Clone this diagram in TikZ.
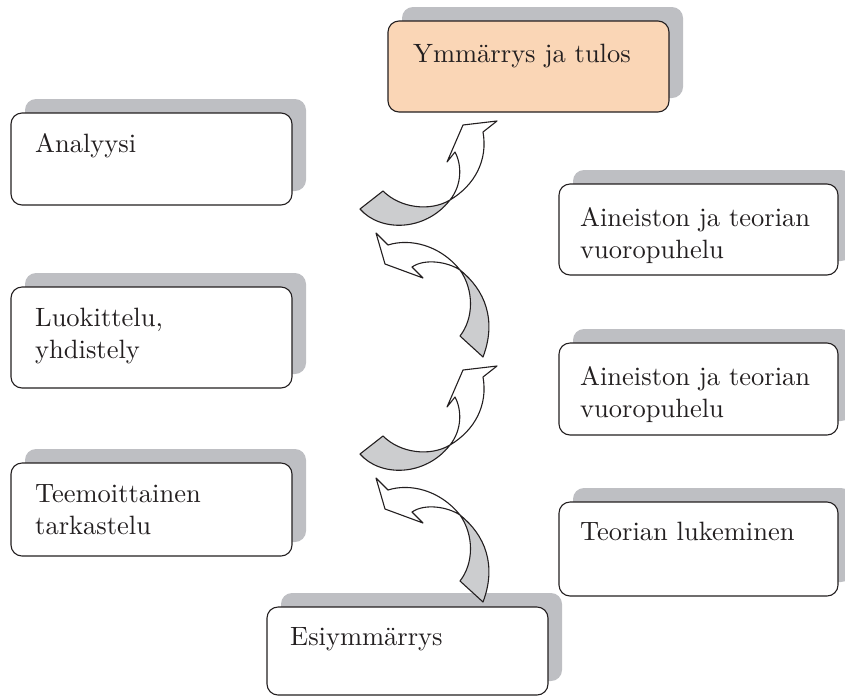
\documentclass[tikz,border=0pt]{standalone}
\usepackage{fontspec}
\setmainfont{lmroman10-regular.otf}
\usetikzlibrary{shadows}
\definecolor{lineblack}{RGB}{35,31,32}
\definecolor{shadowgray}{RGB}{190,191,195}
\definecolor{bandgray}{RGB}{204,205,207}
\definecolor{peach}{RGB}{250,214,182}
\newcommand\textlines[1]{\parbox[t]{260pt}{\raggedright #1}}
\tikzset{
  panel/.style={draw=lineblack, fill=white, line width=1.1pt, rounded corners=11pt,
    inner sep=0pt, outer sep=0pt, anchor=north west, minimum width=281pt,
    general shadow={fill=shadowgray, shadow xshift=14pt, shadow yshift=14pt}},
  caption/.style={font=\fontsize{26.5}{32}\selectfont, anchor=base west,
    inner sep=0pt, text=lineblack},
  bandfront/.style={fill=white, draw=lineblack, line width=1.1pt, line join=round},
  bandback/.style={fill=bandgray, draw=lineblack, line width=1.1pt, line join=round}
}
% band arrow turning up to the right
\newcommand\riseband{%
  \filldraw[bandback] (360,209) -- (383,191) .. controls (400,208) and (430,212) .. (450,200)
    .. controls (425,232) and (380,232) .. (360,209) -- cycle;
  \filldraw[bandfront] (450,200) .. controls (475,185) and (488,160) .. (483,132)
    -- (497,121) -- (463,125) -- (447,162) -- (455,152)
    .. controls (462,165) and (462,185) .. (450,200) -- cycle;
}
% band arrow turning up to the left
\newcommand\leftband{%
  \filldraw[bandfront] (376,233) -- (388,245) .. controls (410,238) and (440,245) .. (460,270)
    .. controls (448,262) and (425,258) .. (412,267) -- (423,278) -- (385,264) -- cycle;
  \filldraw[bandback] (460,270) .. controls (485,290) and (497,320) .. (483,357)
    -- (460,336) .. controls (474,318) and (474,290) .. (460,270) -- cycle;
}
\begin{document}
\begin{tikzpicture}[x=1pt, y=-1pt]
  \useasboundingbox (0,0) rectangle (845,697);
  \clip (0,0) rectangle (845,697);

  % left column
  \node[panel, minimum height=92pt] (ana) at (11,113) {};
  \node[caption] (anaT) at ([shift={(24,39)}]ana.north west) {\textlines{Analyysi}};
  \node[panel, minimum height=101pt] (luo) at (11,287) {};
  \node[caption] (luoT) at ([shift={(24,39)}]luo.north west) {\textlines{Luokittelu,\\yhdistely}};
  \node[panel, minimum height=93pt] (tee) at (11,463) {};
  \node[caption] (teeT) at ([shift={(24,39)}]tee.north west) {\textlines{Teemoittainen\\tarkastelu}};

  % top and bottom
  \node[panel, fill=peach, minimum height=91pt] (ymm) at (388,21) {};
  \node[caption] (ymmT) at ([shift={(25,41)}]ymm.north west) {\textlines{Ymmärrys ja tulos}};
  \node[panel, minimum height=88pt] (esi) at (267,607) {};
  \node[caption] (esiT) at ([shift={(23,38)}]esi.north west) {\textlines{Esiymmärrys}};

  % right column
  \node[panel, minimum width=279pt, minimum height=91pt] (ain1) at (559,184) {};
  \node[caption] (ain1T) at ([shift={(21,42)}]ain1.north west) {\textlines{Aineiston ja teorian\\vuoropuhelu}};
  \node[panel, minimum width=279pt, minimum height=92pt] (ain2) at (559,343) {};
  \node[caption] (ain2T) at ([shift={(21,42)}]ain2.north west) {\textlines{Aineiston ja teorian\\vuoropuhelu}};
  \node[panel, minimum width=279pt, minimum height=94pt] (teo) at (559,502) {};
  \node[caption] (teoT) at ([shift={(21,38)}]teo.north west) {\textlines{Teorian lukeminen}};

  % spiral of band arrows
  \riseband
  \leftband
  \begin{scope}[shift={(0,245)}]
    \riseband
    \leftband
  \end{scope}
\end{tikzpicture}
\end{document}
